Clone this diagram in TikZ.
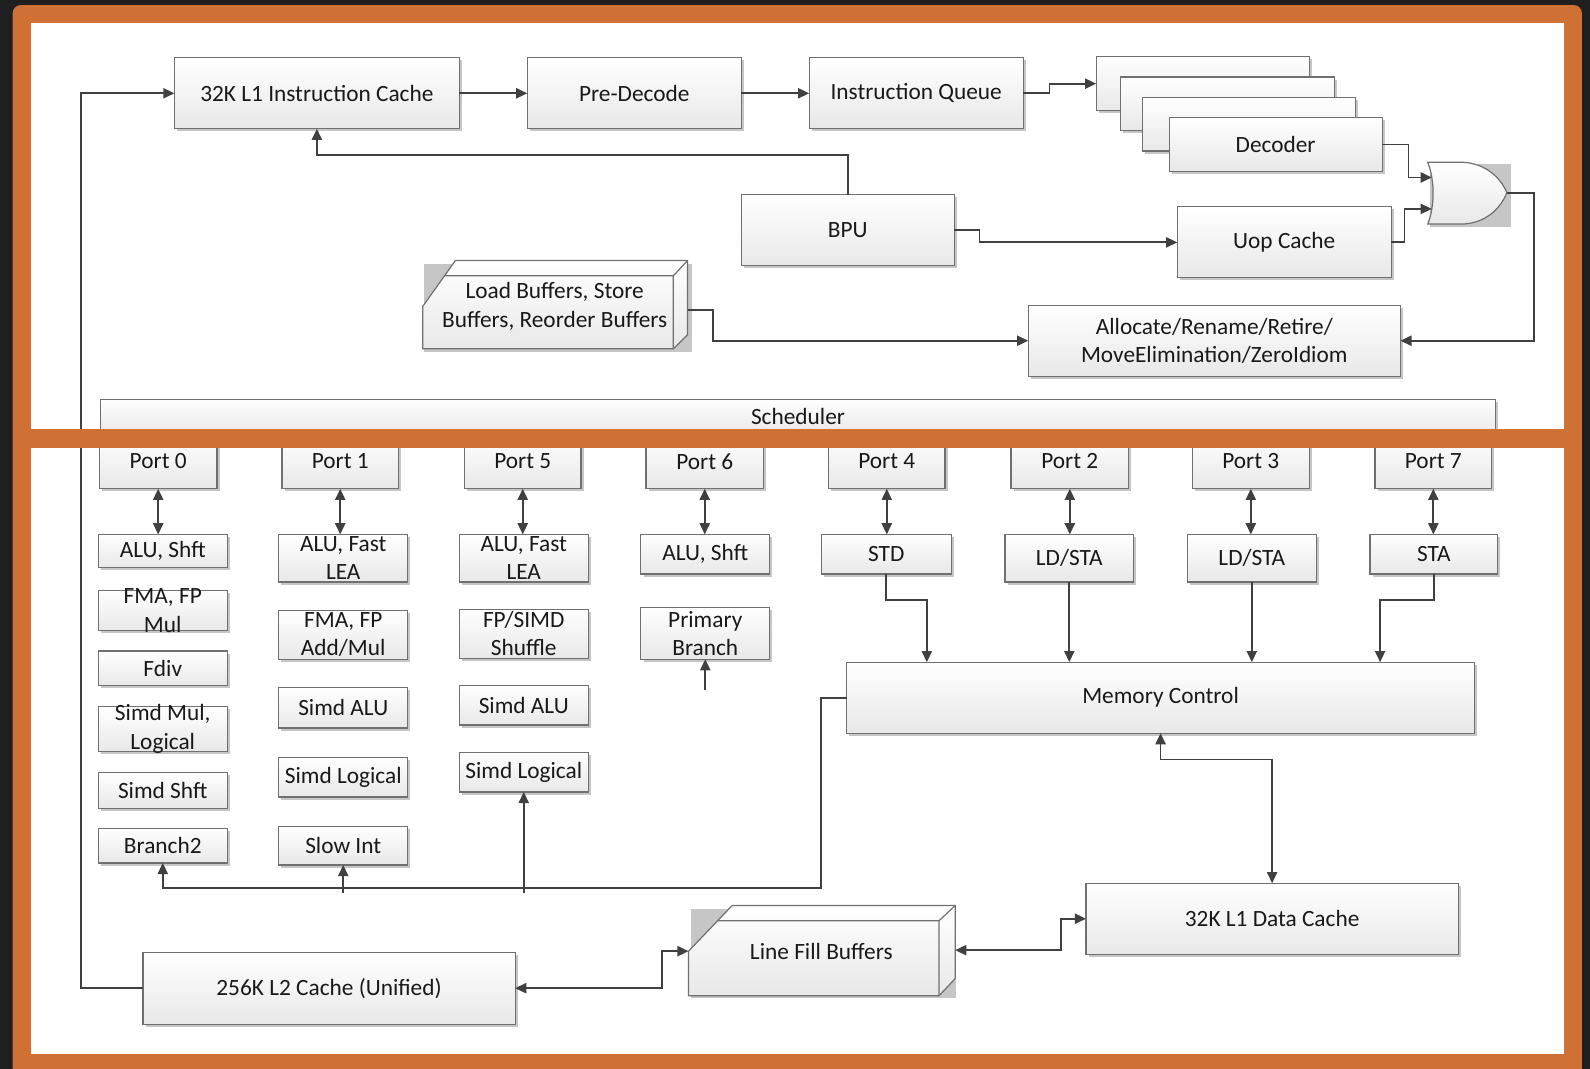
\documentclass[tikz,border=0pt]{standalone}
\usepackage{fontspec}
\setmainfont{Carlito}
\usetikzlibrary{arrows.meta,shadows,calc}

\definecolor{frameorange}{RGB}{207,113,52}
\definecolor{bgdark}{RGB}{31,31,31}
\definecolor{edgegray}{RGB}{112,112,112}
\definecolor{wiregray}{RGB}{64,64,64}
\definecolor{shadowgray}{RGB}{198,198,198}

\tikzset{
  blk/.style={draw=edgegray, line width=0.6pt, top color=white, bottom color=black!9,
    drop shadow={shadow xshift=1.3pt, shadow yshift=-1.3pt, fill=shadowgray, opacity=1},
    inner sep=0pt, outer sep=0pt},
  solid3d/.style={draw=edgegray, line width=0.6pt, top color=white, bottom color=black!9},
  lbl/.style={font=\fontsize{11.5}{14}\selectfont, text=black!90, align=center, inner sep=0pt},
  wire/.style={draw=wiregray, line width=0.9pt},
  arr/.style={wire, -{Triangle[length=5.5pt,width=5pt]}},
  darr/.style={wire, {Triangle[length=5.5pt,width=5pt]}-{Triangle[length=5.5pt,width=5pt]}},
}

% box from its corners (x1,y1)-(x2,y2) in picture units, text centred on it
\newcommand\ubox[6]{%
  \pgfmathsetmacro\ucx{(#2+#4)/2}%
  \pgfmathsetmacro\ucy{(#3+#5)/2}%
  \pgfmathsetmacro\ubw{(#4-#2)/2}%
  \pgfmathsetmacro\ubh{(#5-#3)/2}%
  \node[blk, minimum width=\ubw pt, minimum height=\ubh pt,
        label={[lbl]center:{#6}}] (#1) at (\ucx,\ucy) {};%
}

\begin{document}
\begin{tikzpicture}[x=0.5pt,y=-0.5pt]
\useasboundingbox (0,0) rectangle (1568,1054);

% frame
\fill[bgdark] (0,0) rectangle (1568,1054);
\fill[frameorange, rounded corners=4pt] (12.5,5) rectangle (1560,1080);
\fill[white] (30.6,23) rectangle (1542,423);
\fill[white] (30.6,442) rectangle (1542,1039.5);

% front end
\ubox{l1i}{172}{57}{453}{127}{32K L1 Instruction Cache}
\ubox{pd}{520}{57}{731}{127}{Pre-Decode}
\ubox{iq}{798}{57}{1009}{127}{Instruction Queue}
\ubox{dec1}{1081}{56}{1291}{109}{}
\ubox{dec2}{1105}{76}{1316}{129}{}
\ubox{dec3}{1127}{96}{1337}{149}{}
\ubox{dec4}{1153}{116}{1363}{169}{Decoder}
\ubox{bpu}{731}{192}{941}{262}{BPU}
\ubox{uop}{1161}{204}{1372}{274}{Uop Cache}
\ubox{alloc}{1014}{301}{1381}{371}{Allocate/Rename/Retire/\\MoveElimination/ZeroIdiom}

% OR gate merging decoder and uop cache paths
\fill[shadowgray] (1410,162) rectangle (1490,224);
\path[solid3d] (1408,160) -- (1442,160)
  .. controls (1466,161) and (1480,176) .. (1486,190)
  .. controls (1480,205) and (1466,220) .. (1442,221)
  -- (1408,221)
  .. controls (1415,203) and (1415,178) .. (1408,160) -- cycle;
\coordinate (gin1) at (1412,175);
\coordinate (gin2) at (1412,206);
\coordinate (gout) at (1486,190);

% load/store/reorder buffers block
\fill[shadowgray] (418,260) rectangle (682,347);
\path[solid3d] (449,257) -- (678,257) -- (678,330) -- (664,344) -- (417,344) -- (417,302) -- cycle;
\draw[edgegray, line width=0.6pt] (438,272) -- (664,272) -- (664,344) (664,272) -- (678,257);
\node[lbl] (lb) at (547,302) {Load Buffers, Store\\Buffers, Reorder Buffers};
\coordinate (lbout) at (678,306);

% scheduler and ports
\ubox{sched}{99}{394}{1475}{428}{Scheduler}
\ubox{p0}{98}{428}{214}{482}{Port 0}
\ubox{p1}{278}{428}{393}{482}{Port 1}
\ubox{p5}{458}{428}{573}{482}{Port 5}
\ubox{p6}{637}{428}{753}{482}{Port 6}
\ubox{p4}{817}{428}{932}{482}{Port 4}
\ubox{p2}{997}{428}{1113}{482}{Port 2}
\ubox{p3}{1176}{428}{1291}{482}{Port 3}
\ubox{p7}{1356}{428}{1471}{482}{Port 7}

% execution units
\ubox{u0a}{97}{527}{224}{560}{ALU, Shft}
\ubox{u0b}{97}{582}{224}{622}{FMA, FP\\Mul}
\ubox{u0c}{97}{642}{224}{676}{Fdiv}
\ubox{u0d}{97}{697}{224}{741}{Simd Mul,\\Logical}
\ubox{u0e}{97}{762}{224}{797}{Simd Shft}
\ubox{u0f}{97}{817}{224}{851}{Branch2}

\ubox{u1a}{275}{527}{402}{574}{ALU, Fast\\LEA}
\ubox{u1b}{275}{602}{402}{650}{FMA, FP\\Add/Mul}
\ubox{u1c}{275}{678}{402}{718}{Simd ALU}
\ubox{u1d}{275}{747}{402}{786}{Simd Logical}
\ubox{u1e}{275}{815}{402}{853}{Slow Int}

\ubox{u5a}{453}{527}{580}{574}{ALU, Fast\\LEA}
\ubox{u5b}{453}{601}{580}{649}{FP/SIMD\\Shuffle}
\ubox{u5c}{453}{676}{580}{715}{Simd ALU}
\ubox{u5d}{453}{742}{580}{781}{Simd Logical}

\ubox{u6a}{632}{527}{759}{566}{ALU, Shft}
\ubox{u6b}{632}{599}{759}{650}{Primary\\Branch}

\ubox{std}{810}{527}{938}{566}{STD}
\ubox{ld2}{991}{527}{1118}{574}{LD/STA}
\ubox{ld3}{1171}{527}{1298}{574}{LD/STA}
\ubox{sta}{1351}{527}{1477}{566}{STA}

% memory side
\ubox{mc}{835}{653}{1454}{723}{Memory Control}
\ubox{l1d}{1071}{871}{1438}{941}{32K L1 Data Cache}
\ubox{l2}{141}{939}{508}{1010}{256K L2 Cache (Unified)}

% line fill buffers block
\fill[shadowgray] (681,896) rectangle (943,984);
\path[solid3d] (722,893) -- (942,893) -- (942,965) -- (926,982) -- (679,982) -- (679,938) -- cycle;
\draw[edgegray, line width=0.6pt] (708,908) -- (926,908) -- (926,982) (926,908) -- (942,893);
\node[lbl] (lfb) at (810,938) {Line Fill Buffers};
\coordinate (lfbL) at (679,938);
\coordinate (lfbR) at (942,937);

% front-end connectors
\draw[arr] (l1i.east) -- (pd.west);
\draw[arr] (pd.east) -- (iq.west);
\draw[arr] (iq.east) -- ++(26,0) |- (dec1.west);
\draw[arr] (dec4.east) -- ++(26,0) |- (gin1);
\draw[arr] (uop.east) -- ++(13,0) |- (gin2);
\draw[arr] (gout) -- ++(27,0) |- (alloc.east);
\draw[arr] (bpu.north) -- ++(0,-39) -| (l1i.south);
\draw[arr] (bpu.east) -- ++(25,0) |- (uop.west);
\draw[arr] (lbout) -- ++(25,0) |- (alloc.west);

% port to unit links
\foreach \p/\u in {p0/u0a, p1/u1a, p5/u5a, p6/u6a, p4/std, p2/ld2, p3/ld3, p7/sta}
  \draw[darr] (\p.south) -- (\p.south |- \u.north);

% store/load units into memory control
\coordinate (m4) at (914,0);
\coordinate (m7) at (1361,0);
\draw[arr] (std.south) -- ++(0,26) -| (mc.north -| m4);
\draw[arr] (ld2.south) -- (ld2.south |- mc.north);
\draw[arr] (ld3.south) -- (ld3.south |- mc.north);
\draw[arr] (sta.south) -- ++(0,26) -| (mc.north -| m7);

% memory control feedback bus
\coordinate (busr) at (810,876);
\coordinate (busb) at (0,881);
\draw[arr] (mc.west) -| (busr) -| (u0f.south);
\draw[arr] (u1e.south |- busb) -- (u1e.south);
\draw[arr] (u5d.south |- busb) -- (u5d.south);
\draw[arr] ($(u6b.south)+(0,30)$) -- (u6b.south);

% cache hierarchy
\draw[darr] (mc.south) -- ++(0,26) -| (l1d.north);
\draw[darr] (lfbR) -- ++(104,0) |- (l1d.west);
\draw[darr] (l2.east) -- ++(145,0) |- (lfbL);
\draw[arr] (l2.west) -- ++(-61,0) |- (l1i.west);

% frame divider on top
\fill[frameorange] (30,423) rectangle (1543,442);
\end{tikzpicture}
\end{document}
